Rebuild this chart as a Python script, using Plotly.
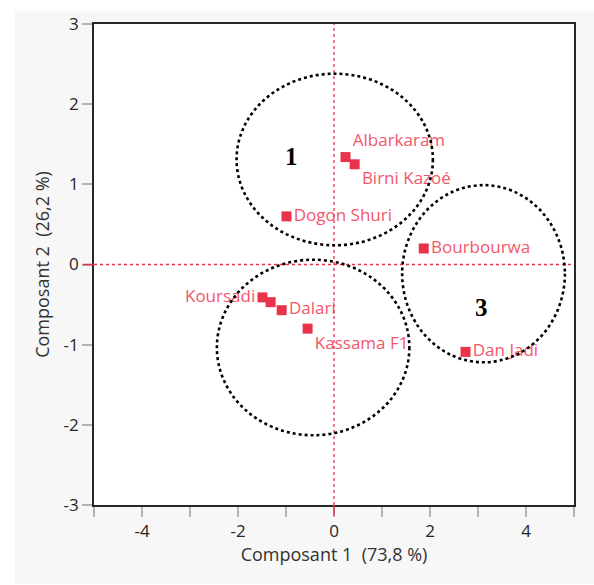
import plotly.graph_objects as go

# PCA scores of the varieties
varieties = ["Albarkaram", "Birni Kazoé", "Dogon Shuri", "Bourbourwa", "Dan Jadi",
             "Koursadi", "", "Dalari", "Kassama F1"]
comp1 = [0.24, 0.43, -0.99, 1.87, 2.74, -1.49, -1.32, -1.09, -0.55]
comp2 = [1.34, 1.25, 0.60, 0.20, -1.09, -0.41, -0.47, -0.57, -0.80]
label_pos = ["top right", "bottom right", "middle right", "middle right", "middle right",
             "middle left", "middle right", "middle right", "bottom right"]

# Groups (ellipse bounds in score units) and their labels
group_x0 = [-2.03, -2.44, 1.42]
group_x1 = [2.06, 1.57, 4.81]
group_y0 = [0.24, -2.13, -1.22]
group_y1 = [2.38, 0.06, 0.99]
group_names = ["1", "3"]
group_name_x = [-0.88, 3.08]
group_name_y = [1.35, -0.54]

x_ticks = [-4, -2, 0, 2, 4]
y_ticks = [-3, -2, -1, 0, 1, 2, 3]

RED = "#e8334a"
TXT = "#f4566c"
FONT = "Open Sans, Noto Sans, sans-serif"

fig = go.Figure()

fig.add_trace(go.Scatter(
    x=comp1, y=comp2, mode="markers+text",
    text=varieties, textposition=label_pos,
    marker=dict(symbol="square", size=10, color=RED, line=dict(width=0)),
    textfont=dict(family=FONT, size=17, color=TXT),
    cliponaxis=False, showlegend=False, hoverinfo="skip",
))

shapes = []
# grey page panel
shapes.append(dict(type="rect", xref="paper", yref="paper",
                   x0=-79 / 480, x1=20 / 480 + 1, y0=-80 / 487, y1=1 + 13 / 487,
                   fillcolor="#f7f7f7", line=dict(width=0), layer="below"))
# white plotting panel
shapes.append(dict(type="rect", xref="paper", yref="paper", x0=0, x1=1, y0=0, y1=1,
                   fillcolor="white", line=dict(width=0), layer="below"))
# origin cross lines
shapes.append(dict(type="line", xref="x", yref="paper", x0=0, x1=0, y0=0, y1=1,
                   line=dict(color=RED, width=1.3, dash="dot")))
shapes.append(dict(type="line", xref="paper", yref="y", x0=0, x1=1, y0=0, y1=0,
                   line=dict(color=RED, width=1.3, dash="dot")))
# red ticks at the origin
shapes.append(dict(type="line", xref="x", yref="paper", x0=0, x1=0, y0=0, y1=-11 / 487,
                   line=dict(color=RED, width=1.5)))
shapes.append(dict(type="line", xref="paper", yref="y", x0=0, x1=-11 / 480, y0=0, y1=0,
                   line=dict(color=RED, width=1.5)))
# group ellipses
for a, b, c, d in zip(group_x0, group_x1, group_y0, group_y1):
    shapes.append(dict(type="circle", xref="x", yref="y", x0=a, x1=b, y0=c, y1=d,
                       line=dict(color="black", width=2.6, dash="dot")))

annotations = [dict(x=gx, y=gy, text=f"<b>{g}</b>", showarrow=False,
                    font=dict(family="Liberation Serif, Times New Roman, serif",
                              size=25, color="black"))
               for g, gx, gy in zip(group_names, group_name_x, group_name_y)]

axis_common = dict(showgrid=False, zeroline=False, showline=True, mirror=True,
                   linecolor="#262626", linewidth=1.8, ticks="outside",
                   ticklen=10, tickwidth=1.5, tickcolor="#b4b4b4",
                   tickfont=dict(family=FONT, size=17, color="#262626"),
                   title_font=dict(family=FONT, size=18, color="#333333"))

fig.update_layout(
    width=594, height=585,
    margin=dict(l=94, r=20, t=18, b=80),
    paper_bgcolor="white", plot_bgcolor="rgba(0,0,0,0)",
    shapes=shapes, annotations=annotations,
    xaxis=dict(range=[-5, 5], tickvals=x_ticks, ticktext=[str(v) for v in x_ticks],
               minor=dict(dtick=1, tick0=-5, ticks="outside", ticklen=10,
                          tickwidth=1.5, tickcolor="#b4b4b4"),
               title=dict(text="Composant 1\u00a0\u00a0(73,8 %)", standoff=5), **axis_common),
    yaxis=dict(range=[-3, 3], tickvals=y_ticks, ticktext=[str(v) for v in y_ticks],
               title=dict(text="Composant 2\u00a0\u00a0(26,2 %)", standoff=9), **axis_common),
)

fig.write_html("out.html")
